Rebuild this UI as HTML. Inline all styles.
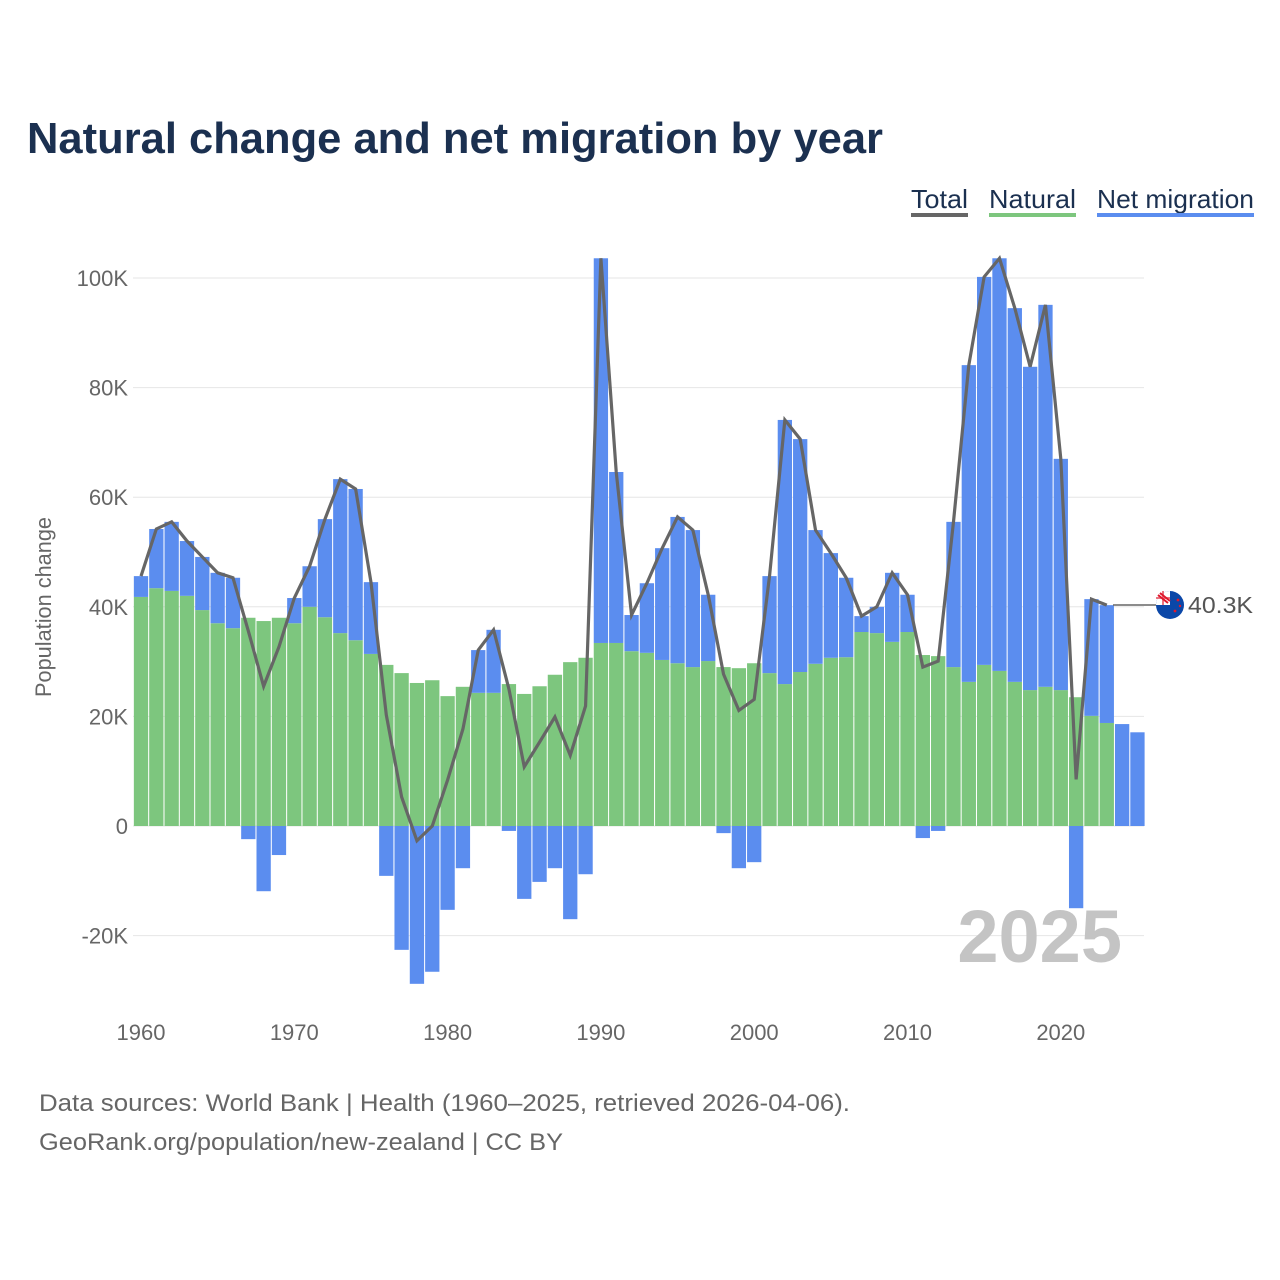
<!DOCTYPE html>
<html><head><meta charset="utf-8">
<style>
html,body{margin:0;padding:0;background:#fff;width:1280px;height:1280px;overflow:hidden}
body{font-family:"Liberation Sans",sans-serif}
</style></head>
<body>
<svg id="chart" width="1280" height="1280" xmlns="http://www.w3.org/2000/svg">
<text x="27" y="153" font-size="44" font-weight="bold" fill="#1b3050" textLength="856" lengthAdjust="spacingAndGlyphs">Natural change and net migration by year</text>
<g font-size="26" fill="#1b3050">
<g><text x="911" y="208" textLength="57" lengthAdjust="spacingAndGlyphs">Total</text><rect x="911" y="213" width="57" height="4" fill="#666"/></g>
<g><text x="989" y="208" textLength="87" lengthAdjust="spacingAndGlyphs">Natural</text><rect x="989" y="213" width="87" height="4" fill="#7dc67e"/></g>
<g><text x="1097" y="208" textLength="157" lengthAdjust="spacingAndGlyphs">Net migration</text><rect x="1097" y="213" width="157" height="4" fill="#5b8def"/></g>
</g>
<text transform="translate(51,607) rotate(-90)" text-anchor="middle" font-size="22" fill="#666" textLength="180" lengthAdjust="spacingAndGlyphs">Population change</text>
<g id="grid"></g><g id="bars"></g><g id="line"></g><g id="xt"></g>
<text x="1122" y="962" text-anchor="end" font-size="74" font-weight="bold" fill="#c4c4c4">2025</text>
<line x1="1113" y1="605" x2="1157" y2="605" stroke="#666" stroke-width="1.5"/>
<g>
<circle cx="1170" cy="605" r="14" fill="#0b47a8"/>
<path d="M1170 605 L1170 591 A14 14 0 0 0 1156 605 Z" fill="#fff"/>
<path d="M1158 595 L1168 603 M1160 593 L1170 601" stroke="#e0182d" stroke-width="2"/>
<path d="M1163 591 L1163 605 M1156 598 L1170 598" stroke="#e0182d" stroke-width="2" opacity=".6"/>
<circle cx="1178" cy="600" r="1.4" fill="#e0182d"/><circle cx="1175" cy="611" r="1.4" fill="#e0182d"/><circle cx="1180" cy="606" r="1.2" fill="#e0182d"/>
</g>
<text x="1188" y="613" font-size="23" fill="#555" textLength="65" lengthAdjust="spacingAndGlyphs">40.3K</text>
<text x="39" y="1111" font-size="24" fill="#666" textLength="811" lengthAdjust="spacingAndGlyphs">Data sources: World Bank | Health (1960–2025, retrieved 2026-04-06).</text>
<text x="39" y="1150" font-size="24" fill="#666" textLength="524" lengthAdjust="spacingAndGlyphs">GeoRank.org/population/new-zealand | CC BY</text>
</svg>
<script>
const years=[];for(let y=1960;y<=2025;y++)years.push(y);
const natural=[41.8,43.4,42.9,42.0,39.4,37.0,36.1,38.0,37.4,38.0,37.0,40.0,38.1,35.2,33.9,31.4,29.4,27.9,26.1,26.6,23.7,25.4,24.3,24.3,25.9,24.1,25.5,27.6,29.9,30.7,33.4,33.4,31.9,31.6,30.3,29.7,29.0,30.1,29.0,28.8,29.7,27.9,25.9,28.1,29.6,30.7,30.8,35.4,35.2,33.6,35.4,31.2,31.0,29.0,26.3,29.4,28.3,26.3,24.8,25.4,24.8,23.5,20.1,18.8,null,null];
const migration=[3.8,10.8,12.6,10.0,9.7,9.2,9.2,-2.4,-11.9,-5.3,4.6,7.4,17.9,28.1,27.6,13.1,-9.1,-22.6,-28.8,-26.6,-15.3,-7.7,7.8,11.5,-0.9,-13.3,-10.2,-7.7,-17.0,-8.8,70.2,31.2,6.6,12.7,20.4,26.7,25.0,12.1,-1.3,-7.7,-6.6,17.7,48.2,42.5,24.4,19.1,14.5,2.9,4.8,12.6,6.8,-2.2,-0.9,26.5,57.8,70.8,75.3,68.2,59.0,69.7,42.2,-15.0,21.3,21.5,18.6,17.1];
const yTicks=[-20,0,20,40,60,80,100];
const xTicks=[1960,1970,1980,1990,2000,2010,2020];
const NS="http://www.w3.org/2000/svg";
const X=y=>141+(y-1960)*15.33;
const Y=v=>826-v*5.48;
function mk(t,a,p){const e=document.createElementNS(NS,t);for(const k in a)e.setAttribute(k,a[k]);p.appendChild(e);return e;}
const g=document.getElementById('grid');
yTicks.forEach(v=>{
 const l=mk('line',{x1:133,x2:1144,y1:Y(v),y2:Y(v),stroke:'#e6e6e6','stroke-width':1},g);
 
 
 const t=mk('text',{x:128,y:Y(v)+8,'text-anchor':'end','font-size':22,fill:'#666'},g);
 
 
 t.textContent=v===0?'0':v+'K';
});
const b=document.getElementById('bars');const w=14.3;
years.forEach((yr,i)=>{
 const n=natural[i],m=migration[i],x=X(yr)-w/2;
 let base=0;
 if(n!==null){
  const r=mk('rect',{x:x,y:Y(n),width:w,height:Y(0)-Y(n),fill:'#7dc67e'},b);
  
  
  base=n;
 }
 let r;
 if(m>=0) r=mk('rect',{x:x,y:Y(base+m),width:w,height:Y(base)-Y(base+m),fill:'#5b8def'},b);
 else r=mk('rect',{x:x,y:Y(0),width:w,height:Y(m)-Y(0),fill:'#5b8def'},b);
 
 
});
const pts=[];years.forEach((yr,i)=>{if(natural[i]!==null)pts.push(X(yr)+','+Y(natural[i]+migration[i]));});
const pl=mk('polyline',{points:pts.join(' '),fill:'none',stroke:'#666','stroke-width':3.2,'stroke-linejoin':'miter'},document.getElementById('line'));


const xt=document.getElementById('xt');
xTicks.forEach(yr=>{
 const t=mk('text',{x:X(yr),y:1040,'text-anchor':'middle','font-size':22,fill:'#666'},xt);
 
 
 t.textContent=yr;
});
</script>
</body></html>
